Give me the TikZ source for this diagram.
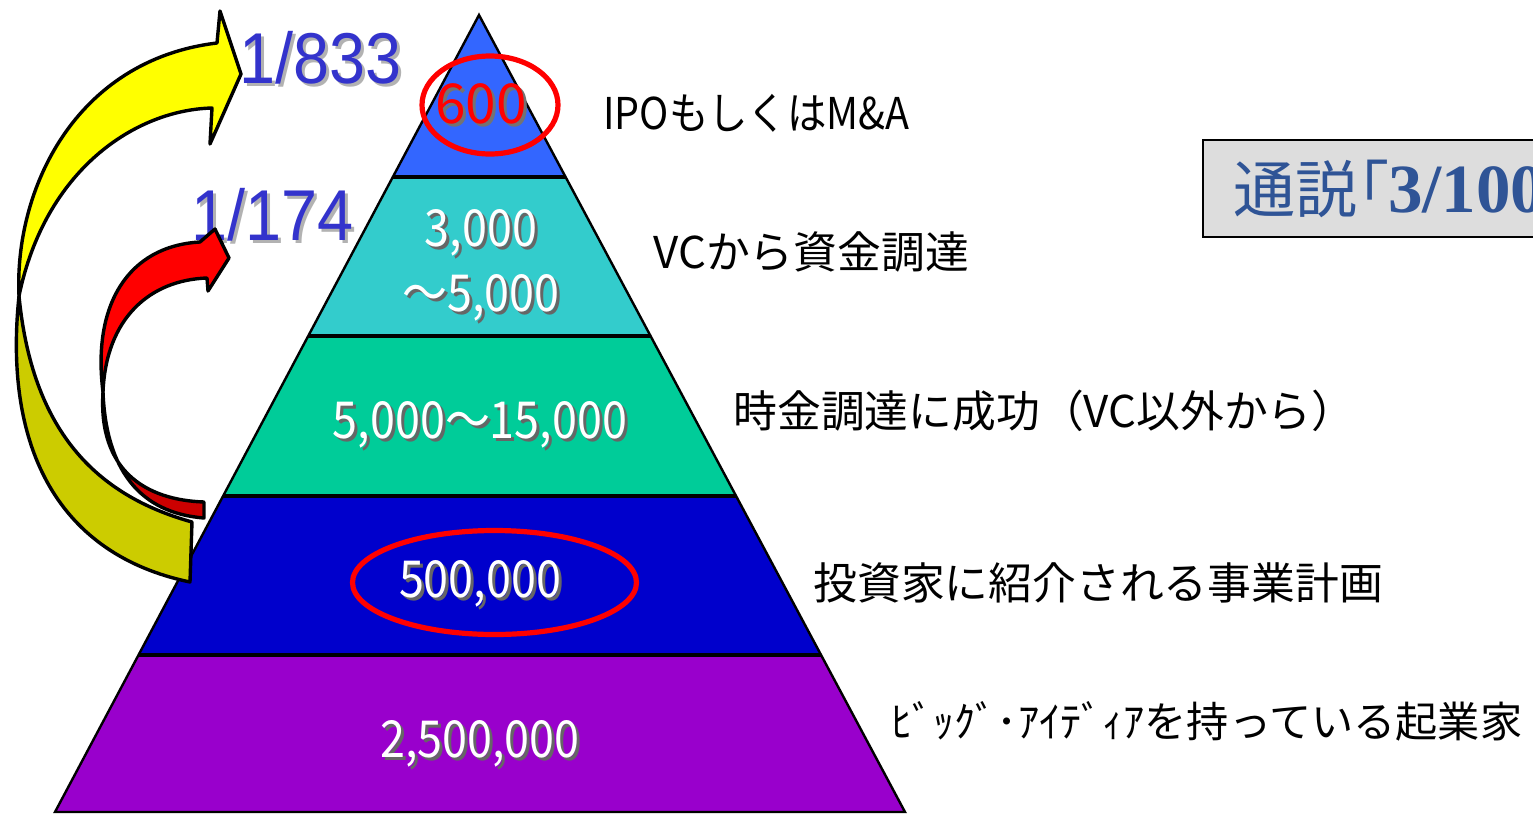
\documentclass[tikz,border=0pt]{standalone}
\usepackage{fontspec}
\newfontfamily\jp{Noto Sans CJK JP}
\newfontfamily\jplat[FakeStretch=0.9]{Noto Sans CJK JP}
\newfontfamily\jpnum[FakeStretch=0.88]{Noto Sans CJK JP}
\newfontfamily\jpbox[RawFeature=+palt]{Noto Sans CJK JP}
\newfontfamily\arialn[FakeStretch=0.9]{Liberation Sans}
\newfontfamily\timesf{Liberation Serif}
\newcommand{\shd}[2]{\makebox[0pt][l]{\hspace{1.5pt}\raisebox{-1.5pt}{\textcolor{#1}{#2}}}#2}
\definecolor{cA}{RGB}{51,102,255}
\definecolor{cB}{RGB}{51,204,204}
\definecolor{cC}{RGB}{0,204,153}
\definecolor{cD}{RGB}{0,0,204}
\definecolor{cE}{RGB}{153,0,204}
\definecolor{numblue}{RGB}{51,51,204}
\definecolor{yel}{RGB}{255,255,0}
\definecolor{yeld}{RGB}{204,204,0}
\definecolor{redd}{RGB}{204,0,0}
\definecolor{boxbg}{RGB}{221,221,221}
\definecolor{boxtxt}{RGB}{47,84,150}
\tikzset{
  arr/.style={draw=black, line width=1.7pt, line join=round},
  num/.style={text=white, inner sep=0pt, align=center, font=\jpnum\fontsize{25.5}{32.5}\selectfont},
  lab/.style={text=black, inner sep=0pt, anchor=west, font=\jp\fontsize{21.9}{26}\selectfont},
  frac/.style={text=numblue, inner sep=0pt, anchor=west, font=\arialn\fontsize{36}{40}\selectfont},
  ring/.style={draw=red, line width=2.6pt},
}
\begin{document}
\begin{tikzpicture}[x=0.5pt,y=-0.5pt]
\useasboundingbox (0,0) rectangle (1533,814);
\clip (0,0) rectangle (1533,814);
\fill[white] (0,0) rectangle (1533,814);
% pyramid
\coordinate (A) at (479,15);
\coordinate (L1) at (392.8,177); \coordinate (R1) at (565.6,177);
\coordinate (L2) at (308.2,336); \coordinate (R2) at (650.6,336);
\coordinate (L3) at (223.1,496); \coordinate (R3) at (736.1,496);
\coordinate (L4) at (138.5,655); \coordinate (R4) at (821.1,655);
\coordinate (L5) at (55,812);    \coordinate (R5) at (905,812);
\fill[cA] (A) -- (L1) -- (R1) -- cycle;
\fill[cB] (L1) -- (L2) -- (R2) -- (R1) -- cycle;
\fill[cC] (L2) -- (L3) -- (R3) -- (R2) -- cycle;
\fill[cD] (L3) -- (L4) -- (R4) -- (R3) -- cycle;
\fill[cE] (L4) -- (L5) -- (R5) -- (R4) -- cycle;
\draw[line width=2pt] (L1) -- (R1) (L2) -- (R2) (L3) -- (R3) (L4) -- (R4);
\draw[line width=1.2pt] (A) -- (L5) -- (R5) -- cycle;
% band numbers
\node (n600) [inner sep=0pt, text=red, font=\jp\fontsize{27.5}{30}\selectfont] at (481,105) {\shd{black!55}{600}};
\node (n3000) [num] at (481,267) {\shd{black!60}{3,000}\\\shd{black!60}{～5,000}};
\node (n15000) [num] at (480,426) {\shd{black!60}{5,000～15,000}};
\node (n500k) [num] at (480,585) {\shd{black!60}{500,000}};
\node (n25m) [num] at (480,745) {\shd{black!60}{2,500,000}};
% rings
\draw[ring] (490,105) ellipse [x radius=34pt, y radius=24.5pt];
\draw[ring] (494.5,582.5) ellipse [x radius=71pt, y radius=26pt];
% right labels
\node (l1) [lab, font=\jplat\fontsize{21.9}{26}\selectfont] at (603,113) {IPOもしくはM\&A};
\node (l2) [lab] at (653,252) {VCから資金調達};
\node (l3) [lab] at (733,411) {時金調達に成功（VC以外から）};
\node (l4) [lab] at (813,583) {投資家に紹介される事業計画};
\node (l5) [lab, font=\jp\fontsize{21.1}{26}\selectfont] at (891,721) {ﾋﾞｯｸﾞ･ｱｲﾃﾞｨｱを持っている起業家};
% ratios
\node (f1) [frac] at (239,59) {\shd{black!30}{1/833}};
\node (f2) [frac] at (191,216) {\shd{black!30}{1/174}};
% red arrow
\filldraw[arr, fill=red] (200,242) -- (215,229) -- (229,258) -- (208,291) -- (207,278)
  .. controls (150,280) and (106,318) .. (103,392)
  .. controls (92,305) and (128,246) .. (200,242) -- cycle;
\filldraw[arr, fill=redd] (103,392) .. controls (98,470) and (145,500) .. (204,502)
  -- (204,518) .. controls (140,513) and (106,470) .. (103,392) -- cycle;
% yellow arrow
\filldraw[arr, fill=yel] (217,43) -- (220,11) -- (241,74) -- (210,144) -- (212,108)
  .. controls (135,110) and (45,170) .. (19,296)
  .. controls (14,190) and (75,60) .. (217,43) -- cycle;
\filldraw[arr, fill=yeld] (19,296) .. controls (3,450) and (60,555) .. (190,582)
  -- (192,522) .. controls (95,495) and (32,430) .. (19,296) -- cycle;
% box
\node (box) [draw=black, line width=1.1pt, fill=boxbg, anchor=west, inner xsep=15pt,
  minimum height=48.5pt, text width=185pt, align=left, text=boxtxt] at (1202,188.5)
  {{\jpbox\fontsize{31}{36}\selectfont 通説「}{\timesf\bfseries\fontsize{34.5}{40}\selectfont 3/100}};
\end{tikzpicture}
\end{document}
